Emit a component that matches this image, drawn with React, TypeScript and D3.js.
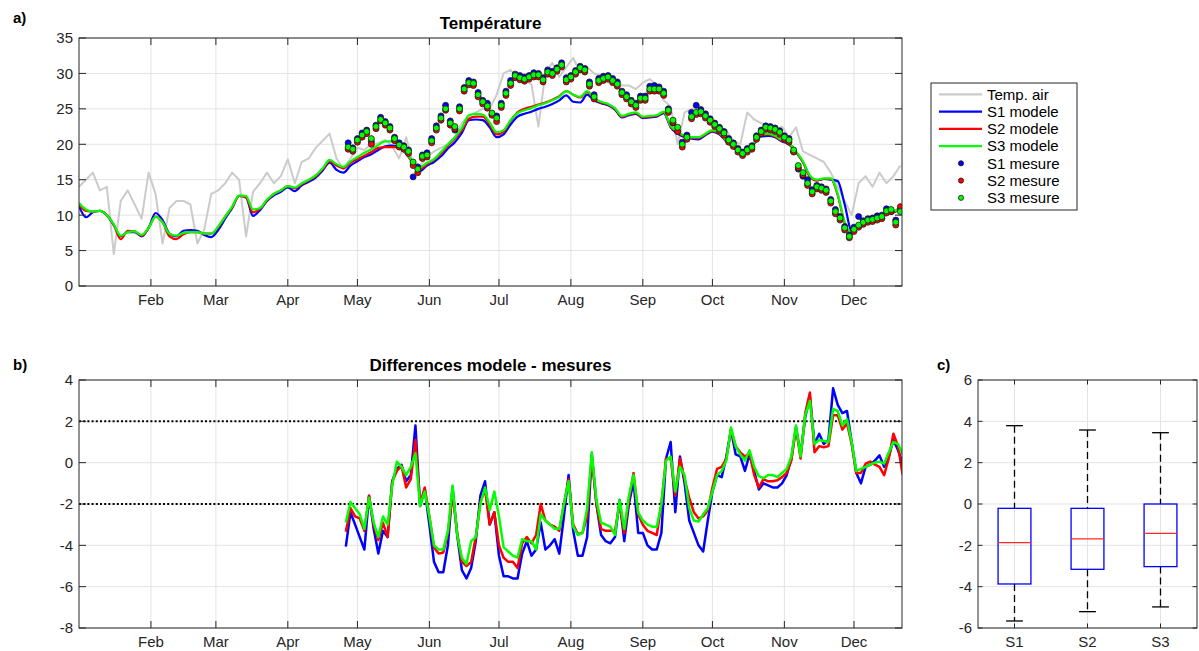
import React from 'react';
import * as d3 from 'd3';

// ---------- DATA ----------
// daily model / air series sampled every 3 days from Jan 1 (day 0)
const MODEL_START = 0;
const MODEL_STEP = 3;
const airTemp = [
  14, 15, 16, 13.5, 14, 4.5, 12, 13.5, 11.5, 9.5,
  16, 13, 6, 11, 12, 12, 11.5, 6, 8, 13,
  13.5, 14.5, 16, 15, 7, 13.3, 14.5, 16, 14.5, 15.5,
  17.9, 14.5, 17.5, 18, 19.5, 20.5, 21.5, 18, 16.5, 18,
  19.5, 19.2, 20, 20.2, 20.6, 19.7, 18, 21, 17.4, 17,
  18.2, 19, 19.5, 20, 21, 23, 24, 24.5, 25, 25,
  27, 30, 30.5, 29.5, 29, 28.5, 22.5, 30, 31.5, 29.5,
  30.9, 32.2, 30.1, 30.9, 30, 29.7, 28.7, 29.2, 28.3, 28.3,
  27.8, 28.7, 29.2, 28.3, 26.2, 25.3, 20, 24.5, 25, 25.3,
  24, 23.4, 22.5, 22, 20.5, 20, 24.5, 23.5, 23, 22.5,
  22, 22.5, 21, 22.4, 19, 18.5, 18, 17.5, 16, 14,
  12, 10, 14.5, 15.5, 14, 16, 14.5, 15.5, 17,
];
const s1Model = [
  11.3, 9.7, 10.4, 10.6, 10.0, 8.6, 7.0, 7.6, 7.6, 7.0,
  8.2, 10.3, 9.3, 7.4, 7.0, 7.8, 7.9, 7.8, 7.2, 6.9,
  7.9, 9.5, 11.0, 12.7, 12.5, 9.9, 10.7, 12.0, 12.8, 13.3,
  13.9, 13.4, 14.2, 14.7, 15.3, 16.3, 17.4, 16.4, 16.0, 17.0,
  17.6, 18.2, 18.6, 19.2, 19.7, 19.8, 19.5, 18.7, 17.4, 16.2,
  17.0, 17.5, 18.3, 19.4, 20.3, 21.6, 23.4, 23.5, 23.4, 22.4,
  21.0, 21.4, 22.8, 23.9, 24.3, 24.6, 25.0, 25.3, 25.7, 26.2,
  26.9, 26.0, 25.9, 27.0, 26.2, 25.8, 25.5, 24.9, 23.8, 24.1,
  24.3, 23.7, 23.8, 23.9, 24.4, 22.4, 21.5, 21.0, 20.8, 20.7,
  21.3, 21.8, 21.4, 20.4, 19.6, 18.8, 19.0, 20.1, 21.1, 21.2,
  21.0, 20.4, 20.0, 18.9, 17.5, 15.5, 14.9, 15.1, 15.0, 14.8,
  11.5, 7.8, 8.6, 9.1, 9.3, 9.7, 10.3, 10.4, 11.1,
];
const s2Model = [
  11.5, 10.6, 10.5, 10.6, 10.0, 8.6, 6.6, 7.8, 7.7, 7.1,
  8.2, 9.8, 9.0, 7.0, 6.6, 7.3, 7.6, 7.6, 7.4, 7.4,
  8.3, 9.8, 11.1, 12.7, 12.5, 10.4, 10.9, 12.1, 13.0, 13.5,
  14.1, 13.8, 14.4, 14.9, 15.5, 16.5, 17.6, 17.0, 16.6, 17.4,
  17.9, 18.4, 18.9, 19.5, 19.6, 19.6, 19.6, 18.7, 17.3, 16.5,
  17.2, 17.8, 18.7, 19.8, 20.8, 22.0, 23.6, 23.9, 23.9, 22.8,
  21.4, 21.8, 23.3, 24.5, 25.0, 25.3, 25.6, 25.9, 26.3, 26.8,
  27.5, 27.0, 26.6, 27.4, 26.4, 25.9, 25.6, 25.0, 23.9, 24.2,
  24.4, 23.8, 23.9, 24.0, 24.5, 22.5, 21.7, 21.1, 20.9, 20.9,
  21.4, 21.9, 21.5, 20.5, 19.7, 18.9, 19.1, 20.2, 21.3, 21.4,
  21.1, 20.5, 20.1, 18.9, 17.5, 15.4, 14.9, 15.1, 15.1, 12.8,
  8.9, 7.4, 8.6, 9.1, 9.3, 9.7, 10.3, 10.4, 11.1,
];
const s3Model = [
  11.7, 10.8, 10.5, 10.6, 10.0, 8.7, 7.1, 7.6, 7.7, 7.2,
  8.2, 9.8, 9.0, 7.4, 7.1, 7.5, 7.6, 7.6, 7.4, 7.4,
  8.4, 9.8, 11.2, 12.8, 12.7, 10.8, 11.0, 12.2, 13.0, 13.5,
  14.1, 13.9, 14.5, 15.0, 15.6, 16.6, 17.8, 17.2, 16.8, 17.6,
  18.2, 18.8, 19.3, 19.9, 20.4, 20.4, 19.7, 18.8, 17.5, 16.8,
  17.4, 17.9, 18.9, 20.0, 21.0, 22.3, 24.1, 24.3, 24.2, 23.1,
  21.7, 22.0, 23.4, 24.4, 24.8, 25.1, 25.5, 25.8, 26.2, 26.7,
  27.5, 27.0, 26.7, 27.5, 26.5, 26.0, 25.7, 25.1, 24.0, 24.3,
  24.5, 23.9, 24.0, 24.1, 24.6, 22.6, 21.8, 21.2, 21.0, 21.0,
  21.5, 22.0, 21.6, 20.6, 19.8, 19.0, 19.2, 20.3, 21.4, 21.5,
  21.2, 20.6, 20.2, 19.0, 17.6, 15.6, 15.0, 15.2, 15.2, 13.0,
  9.0, 7.5, 8.7, 9.2, 9.4, 9.8, 10.4, 10.5, 11.2,
];

// measurements every 2 days from day 116
const MEAS_START = 116;
const MEAS_STEP = 2;
const s1Mesure = [
  20.2, 19.5, 20.8, 21.6, 22.0, 20.4, 22.7, 23.8, 23.2, 22.5,
  21.0, 20.2, 19.8, 19.2, 15.4, 16.8, 18.5, 18.8, 20.8, 22.6,
  24.0, 25.5, 23.3, 22.0, 25.3, 28.0, 29.0, 28.8, 27.3, 26.2,
  25.8, 24.2, 24.0, 25.8, 27.5, 29.0, 29.9, 29.7, 29.5, 29.7,
  30.1, 30.0, 29.4, 30.5, 30.3, 30.8, 31.5, 29.4, 29.7, 30.4,
  31.0, 30.7, 28.8, 27.0, 29.3, 29.6, 29.7, 29.3, 28.8, 27.5,
  27.0, 26.2, 25.8, 26.8, 26.8, 28.2, 28.3, 28.1, 27.5, 25.0,
  23.0, 21.8, 20.3, 21.3, 24.5, 25.5, 24.9, 24.3, 23.6, 23.0,
  22.4, 21.8, 20.8, 20.2, 19.4, 18.9, 19.4, 19.8, 21.2, 22.0,
  22.6, 22.5, 22.3, 21.9, 21.2, 20.8, 19.0, 16.5, 15.5, 15.0,
  13.6, 14.2, 14.0, 13.7, 12.2, 10.8, 9.8, 8.4, 7.2, 8.3,
  9.8, 9.2, 9.5, 9.6, 9.9, 10.0, 10.9, 10.5, 9.3, 10.8,
];
const s2Mesure = [
  19.3, 19.0, 20.3, 21.0, 21.5, 20.0, 22.2, 23.3, 22.7, 22.0,
  20.5, 19.6, 19.3, 18.7, 17.0, 16.0, 18.0, 18.2, 20.2, 22.0,
  23.4, 24.8, 22.7, 22.2, 24.7, 27.5, 28.4, 28.3, 26.7, 25.7,
  25.1, 24.1, 23.2, 25.2, 26.9, 28.3, 29.4, 29.1, 28.9, 29.2,
  29.5, 29.5, 28.8, 29.9, 29.7, 30.3, 30.9, 28.8, 29.2, 29.9,
  30.5, 30.2, 28.2, 26.4, 28.7, 29.0, 29.2, 28.7, 28.2, 27.0,
  26.4, 25.7, 25.2, 26.2, 26.2, 27.5, 27.5, 27.5, 26.9, 24.5,
  23.1, 21.8, 19.6, 20.7, 23.6, 24.2, 24.3, 23.7, 23.1, 22.5,
  21.9, 21.3, 20.3, 19.7, 18.9, 18.4, 18.9, 19.3, 20.7, 21.5,
  22.1, 22.0, 21.8, 21.4, 20.7, 20.3, 18.9, 16.7, 15.7, 14.2,
  13.0, 13.7, 13.5, 13.2, 11.7, 10.2, 9.3, 7.9, 6.8, 7.7,
  8.3, 8.7, 9.0, 9.1, 9.3, 9.5, 10.3, 10.5, 8.6, 11.2,
];
const s3Mesure = [
  19.6, 19.3, 20.6, 21.3, 21.8, 20.8, 22.5, 23.5, 23.0, 22.3,
  20.8, 19.9, 19.6, 19.0, 17.5, 16.5, 18.3, 18.5, 20.5, 22.3,
  23.7, 25.0, 23.0, 22.5, 25.0, 27.8, 28.7, 28.6, 27.0, 26.0,
  25.4, 24.4, 23.7, 25.5, 27.2, 28.6, 29.7, 29.4, 29.2, 29.5,
  29.8, 29.8, 29.1, 30.2, 30.0, 30.6, 31.2, 29.1, 29.5, 30.2,
  30.8, 30.5, 28.5, 26.7, 29.0, 29.3, 29.5, 29.0, 28.5, 27.3,
  26.7, 26.0, 25.5, 26.5, 26.5, 27.8, 27.8, 27.8, 27.2, 24.8,
  23.4, 22.4, 20.0, 21.0, 23.9, 24.5, 24.6, 24.0, 23.4, 22.8,
  22.2, 21.6, 20.6, 20.0, 19.2, 18.7, 19.2, 19.6, 21.0, 21.8,
  22.4, 22.3, 22.1, 21.7, 21.0, 20.6, 19.2, 17.0, 16.0, 14.5,
  13.3, 14.0, 13.8, 13.5, 12.0, 10.5, 9.6, 8.2, 7.0, 8.0,
  8.6, 9.0, 9.3, 9.4, 9.6, 9.8, 10.6, 10.8, 9.0, 10.5,
];

// model - measure differences every 2 days from day 115
const DIFF_START = 115;
const DIFF_STEP = 2;
const s1Diff = [
  -4.06, -2.4, -3.0, -3.6, -4.2, -1.6, -3.2, -4.4, -3.3, -3.6,
  -0.9, -0.3, -0.1, -0.9, -0.6, 1.8, -2.1, -1.3, -3.0, -4.8,
  -5.3, -5.3, -4.0, -1.2, -3.5, -5.2, -5.6, -5.1, -3.8, -1.6,
  -0.9, -3.0, -2.4, -4.5, -5.5, -5.5, -5.6, -5.6, -4.4, -3.8,
  -4.5, -4.2, -2.9, -4.2, -4.0, -3.7, -4.4, -2.6, -0.6, -3.3,
  -4.5, -4.5, -3.6, 0.4, -2.0, -3.5, -3.8, -3.9, -3.6, -1.8,
  -3.8, -2.0, -0.9, -3.4, -3.4, -4.0, -4.2, -4.2, -3.4, 0.2,
  1.0, -2.4, 0.3, -1.0, -2.8, -3.4, -4.0, -4.3, -2.8, -1.4,
  -0.6, -0.7, 0.3, 1.6, 0.4, 0.3, -0.4, 0.4, -0.4, -1.3,
  -1.0, -1.1, -1.2, -1.2, -1.0, -0.6, 0.2, 1.7, 0.4, 2.2,
  3.2, 0.9, 1.4, 0.9, 1.1, 3.6, 2.8, 2.4, 2.5, 1.0,
  -0.5, -1.0, -0.2, -0.1, 0.1, 0.35, -0.2, 0.3, 1.1, 0.6,
  -0.05,
];
const s2Diff = [
  -3.34, -2.2, -2.6, -2.7, -3.3, -1.6, -3.0, -3.75, -2.9, -3.6,
  -0.9, -0.4, -0.15, -1.2, -0.8, 1.1, -2.0, -1.2, -2.6, -4.1,
  -4.4, -4.35, -3.4, -1.5, -3.4, -4.8, -5.0, -4.8, -3.6, -1.9,
  -1.3, -3.0, -2.4, -4.0, -4.6, -4.8, -4.8, -5.1, -3.9, -3.6,
  -3.9, -3.5, -2.0, -2.8, -3.0, -3.1, -3.3, -2.0, -0.8, -3.0,
  -3.45, -3.4, -2.6, 0.3, -2.0, -3.2, -3.3, -3.3, -3.3, -2.0,
  -3.4, -1.8, -0.5, -2.5, -3.0, -3.3, -3.4, -3.5, -2.0, 0.2,
  0.2, -1.6, 0.2, -0.8, -1.7, -2.4, -2.7, -2.6, -2.3, -1.2,
  -0.3, -0.2, 0.2, 1.6, 0.8, 0.5, 0.3, 0.45, -0.6, -1.2,
  -0.8, -0.9, -0.9, -0.85, -0.7, -0.5, 0.1, 1.7, 0.2, 2.4,
  3.4, 0.5, 0.8, 0.75, 0.8, 2.3, 2.3, 1.6, 1.9, 0.9,
  -0.5, -0.5, -0.05, 0.05, -0.1, -0.2, -0.6, 0.2, 1.4, 0.8,
  -0.6,
];
const s3Diff = [
  -2.9, -1.9, -2.2, -2.5, -3.2, -1.7, -2.9, -3.6, -2.6, -3.0,
  -1.1, 0.05, -0.2, -0.6, -0.2, 0.45, -2.1, -1.4, -2.6, -4.0,
  -4.2, -4.2, -3.3, -1.1, -3.5, -4.6, -4.9, -3.8, -3.6, -2.0,
  -1.2, -2.3, -1.4, -2.6, -4.1, -4.3, -4.5, -4.6, -3.7, -3.8,
  -3.8, -4.2, -2.5, -2.8, -3.0, -3.2, -3.2, -2.0, -0.9, -3.1,
  -3.5, -3.4, -2.2, 0.5, -1.8, -2.9, -3.0, -3.1, -3.5, -1.8,
  -3.2, -1.6, -0.6, -2.4, -2.8, -3.0, -3.1, -3.1, -2.0, 0.1,
  0.3, -1.4, -0.2, -0.6, -2.2, -2.8, -2.85, -2.5, -2.2, -1.4,
  -0.6, -0.4, 0.1, 1.7, 0.8, 0.4, 0.1, 0.6, -0.2, -0.65,
  -0.75, -0.6, -0.6, -0.7, -0.5, -0.3, 0.3, 1.8, 0.3, 2.3,
  3.0, 0.9, 1.1, 1.05, 1.0, 2.6, 2.5, 1.8, 2.1, 1.0,
  -0.4, -0.3, -0.2, -0.1, 0.0, 0.05, -0.05, 0.5, 1.0, 0.9,
  0.4,
];

// boxplot statistics of the differences
const boxLabels = ['S1', 'S2', 'S3'];
const boxWhiskerHigh = [3.79, 3.58, 3.45];
const boxQ3 = [-0.21, -0.21, 0.0];
const boxMedian = [-1.87, -1.69, -1.42];
const boxQ1 = [-3.87, -3.16, -3.03];
const boxWhiskerLow = [-5.66, -5.21, -4.98];

const legendLabels = ['Temp. air', 'S1 modele', 'S2 modele', 'S3 modele', 'S1 mesure', 'S2 mesure', 'S3 mesure'];
const tempTicks = [0, 5, 10, 15, 20, 25, 30, 35];
const diffTicks = [-8, -6, -4, -2, 0, 2, 4];
const boxTicks = [-6, -4, -2, 0, 2, 4, 6];

// ---------- STYLE ----------
const W = 1199;
const H = 651;
const FONT = '"Liberation Sans", Arial, Helvetica, sans-serif';
const AX = '#262626';
const GRID = '#e3e3e3';
const C_AIR = '#cbcbcb';
const C1 = '#0000ff';
const C2 = '#ff0000';
const C3 = '#00ff00';

const PA = { x0: 79, x1: 902, y0: 38, y1: 286 };
const PB = { x0: 79, x1: 902, y0: 380, y1: 628 };
const PC = { x0: 978, x1: 1197, y0: 380, y1: 628 };

const T0 = new Date(2015, 0, 1).getTime();
const toDate = (d: number) => new Date(T0 + d * 86400000);

type Tick = { pos: number; label: string };

function Grid({ p, xt, yt }: { p: any; xt: number[]; yt: number[] }) {
  return (
    <g stroke={GRID} strokeWidth={1}>
      {xt.map((x, i) => (
        <line key={'gx' + i} x1={x} x2={x} y1={p.y0} y2={p.y1} />
      ))}
      {yt.map((y, i) => (
        <line key={'gy' + i} x1={p.x0} x2={p.x1} y1={y} y2={y} />
      ))}
    </g>
  );
}

function Frame({ p, xt, yt, len }: { p: any; xt: Tick[]; yt: Tick[]; len: number }) {
  return (
    <g>
      <rect x={p.x0} y={p.y0} width={p.x1 - p.x0} height={p.y1 - p.y0} fill="none" stroke={AX} strokeWidth={1} />
      <g stroke={AX} strokeWidth={1}>
        {xt.map((t, i) => (
          <g key={'tx' + i}>
            <line x1={t.pos} x2={t.pos} y1={p.y1} y2={p.y1 - len} />
            <line x1={t.pos} x2={t.pos} y1={p.y0} y2={p.y0 + len} />
          </g>
        ))}
        {yt.map((t, i) => (
          <g key={'ty' + i}>
            <line x1={p.x0} x2={p.x0 + len} y1={t.pos} y2={t.pos} />
            <line x1={p.x1} x2={p.x1 - len} y1={t.pos} y2={t.pos} />
          </g>
        ))}
      </g>
      <g fill={AX} fontSize={15} fontFamily={FONT}>
        {xt.map((t, i) => (
          <text key={'lx' + i} x={t.pos} y={p.y1 + 19} textAnchor="middle">
            {t.label}
          </text>
        ))}
        {yt.map((t, i) => (
          <text key={'ly' + i} x={p.x0 - 6} y={t.pos} dy="0.36em" textAnchor="end">
            {t.label}
          </text>
        ))}
      </g>
    </g>
  );
}

export default function App() {
  const xT = d3.scaleTime().domain([toDate(0), toDate(354.7)]).range([PA.x0, PA.x1]);
  const yA = d3.scaleLinear().domain([0, 35]).range([PA.y1, PA.y0]);
  const yB = d3.scaleLinear().domain([-8, 4]).range([PB.y1, PB.y0]);
  const xC = d3.scaleLinear().domain([0.5, 3.5]).range([PC.x0, PC.x1]);
  const yC = d3.scaleLinear().domain([-6, 6]).range([PC.y1, PC.y0]);

  const months = d3.timeMonth.range(new Date(2015, 1, 1), new Date(2015, 11, 2));
  const fmt = d3.timeFormat('%b');
  const monthTicks: Tick[] = months.map((m) => ({ pos: xT(m), label: fmt(m) }));

  const modelDay = (i: number) => MODEL_START + i * MODEL_STEP;
  const measDay = (i: number) => MEAS_START + i * MEAS_STEP;
  const diffDay = (i: number) => DIFF_START + i * DIFF_STEP;

  const lineA = (dayFn: (i: number) => number, curve: any) =>
    d3
      .line<number>()
      .x((_, i) => xT(toDate(dayFn(i))))
      .y((v) => yA(v))
      .curve(curve);
  const lineB = d3
    .line<number>()
    .x((_, i) => xT(toDate(diffDay(i))))
    .y((v) => yB(v));

  const airPath = lineA(modelDay, d3.curveLinear)(airTemp) || '';
  const modelLine = lineA(modelDay, d3.curveMonotoneX);

  const meas = [
    { data: s1Mesure, c: C1 },
    { data: s2Mesure, c: C2 },
    { data: s3Mesure, c: C3 },
  ];

  const legendY0 = 94.3;
  const legendDY = 17.25;

  const boxHalf = 0.225;
  const capHalf = 0.115;

  return (
    <svg
      width={W}
      height={H}
      style={{ position: 'absolute', left: 0, top: 0, background: '#ffffff' }}
      fontFamily={FONT}
    >
      <defs>
        <clipPath id="clipA">
          <rect x={PA.x0} y={PA.y0} width={PA.x1 - PA.x0} height={PA.y1 - PA.y0} />
        </clipPath>
        <clipPath id="clipB">
          <rect x={PB.x0} y={PB.y0} width={PB.x1 - PB.x0} height={PB.y1 - PB.y0} />
        </clipPath>
      </defs>
      <rect x={0} y={0} width={W} height={H} fill="#fff" />

      {/* ---------- panel a ---------- */}
      <Grid p={PA} xt={monthTicks.map((t) => t.pos)} yt={tempTicks.map((v) => yA(v))} />
      <g clipPath="url(#clipA)">
        <path d={airPath} fill="none" stroke={C_AIR} strokeWidth={2} strokeLinejoin="round" />
        <path d={modelLine(s1Model) || ''} fill="none" stroke={C1} strokeWidth={2.2} />
        <path d={modelLine(s2Model) || ''} fill="none" stroke={C2} strokeWidth={2.2} />
        <path d={modelLine(s3Model) || ''} fill="none" stroke={C3} strokeWidth={2.2} />
        {meas.map((m, k) => (
          <g key={'m' + k} fill={m.c} stroke="#1a1a1a" strokeWidth={0.8}>
            {m.data.map((v, i) => (
              <circle key={i} cx={xT(toDate(measDay(i)))} cy={yA(v)} r={3} />
            ))}
          </g>
        ))}
      </g>
      <Frame p={PA} xt={monthTicks} yt={tempTicks.map((v) => ({ pos: yA(v), label: String(v) }))} len={7} />
      <text x={(PA.x0 + PA.x1) / 2} y={29} textAnchor="middle" fontWeight="bold" fontSize={17} fill="#000">
        Température
      </text>
      <text x={13} y={23} fontWeight="bold" fontSize={15} fill="#000">
        a)
      </text>

      {/* legend */}
      <g>
        <rect x={931} y={83} width={146} height={127} fill="#fff" stroke={AX} strokeWidth={1} />
        {legendLabels.map((lab, i) => {
          const y = legendY0 + i * legendDY;
          const lineCols = [C_AIR, C1, C2, C3];
          return (
            <g key={'lg' + i}>
              {i < 4 ? (
                <line x1={939} x2={982} y1={y} y2={y} stroke={lineCols[i]} strokeWidth={2.2} />
              ) : (
                <circle cx={961} cy={y} r={2.6} fill={[C1, C2, C3][i - 4]} stroke="#1a1a1a" strokeWidth={0.8} />
              )}
              <text x={987} y={y} dy="0.36em" fontSize={15} fill="#000">
                {lab}
              </text>
            </g>
          );
        })}
      </g>

      {/* ---------- panel b ---------- */}
      <Grid p={PB} xt={monthTicks.map((t) => t.pos)} yt={diffTicks.map((v) => yB(v))} />
      <g stroke="#000" strokeWidth={2} strokeDasharray="2,2.2">
        <line x1={PB.x0} x2={PB.x1} y1={yB(2)} y2={yB(2)} />
        <line x1={PB.x0} x2={PB.x1} y1={yB(-2)} y2={yB(-2)} />
      </g>
      <g clipPath="url(#clipB)" fill="none" strokeWidth={2.5} strokeLinejoin="round">
        <path d={lineB(s1Diff) || ''} stroke={C1} />
        <path d={lineB(s2Diff) || ''} stroke={C2} />
        <path d={lineB(s3Diff) || ''} stroke={C3} />
      </g>
      <Frame p={PB} xt={monthTicks} yt={diffTicks.map((v) => ({ pos: yB(v), label: String(v) }))} len={7} />
      <text x={(PB.x0 + PB.x1) / 2} y={371} textAnchor="middle" fontWeight="bold" fontSize={17} fill="#000">
        Differences modele - mesures
      </text>
      <text x={13} y={370} fontWeight="bold" fontSize={15} fill="#000">
        b)
      </text>

      {/* ---------- panel c ---------- */}
      <Grid p={PC} xt={boxLabels.map((_, i) => xC(i + 1))} yt={boxTicks.map((v) => yC(v))} />
      {boxLabels.map((lab, i) => {
        const cx = xC(i + 1);
        const bl = xC(i + 1 - boxHalf);
        const br = xC(i + 1 + boxHalf);
        const cl = xC(i + 1 - capHalf);
        const cr = xC(i + 1 + capHalf);
        return (
          <g key={'bx' + i}>
            <g stroke="#000" strokeWidth={1.3} strokeDasharray="7,4">
              <line x1={cx} x2={cx} y1={yC(boxWhiskerHigh[i])} y2={yC(boxQ3[i])} />
              <line x1={cx} x2={cx} y1={yC(boxQ1[i])} y2={yC(boxWhiskerLow[i])} />
            </g>
            <g stroke="#000" strokeWidth={1.3}>
              <line x1={cl} x2={cr} y1={yC(boxWhiskerHigh[i])} y2={yC(boxWhiskerHigh[i])} />
              <line x1={cl} x2={cr} y1={yC(boxWhiskerLow[i])} y2={yC(boxWhiskerLow[i])} />
            </g>
            <rect
              x={bl}
              y={yC(boxQ3[i])}
              width={br - bl}
              height={yC(boxQ1[i]) - yC(boxQ3[i])}
              fill="none"
              stroke={C1}
              strokeWidth={1.3}
            />
            <line x1={bl} x2={br} y1={yC(boxMedian[i])} y2={yC(boxMedian[i])} stroke="#ff2a2a" strokeWidth={1.3} />
          </g>
        );
      })}
      <Frame
        p={PC}
        xt={boxLabels.map((l, i) => ({ pos: xC(i + 1), label: l }))}
        yt={boxTicks.map((v) => ({ pos: yC(v), label: String(v) }))}
        len={4.5}
      />
      <text x={937} y={370} fontWeight="bold" fontSize={15} fill="#000">
        c)
      </text>
    </svg>
  );
}
